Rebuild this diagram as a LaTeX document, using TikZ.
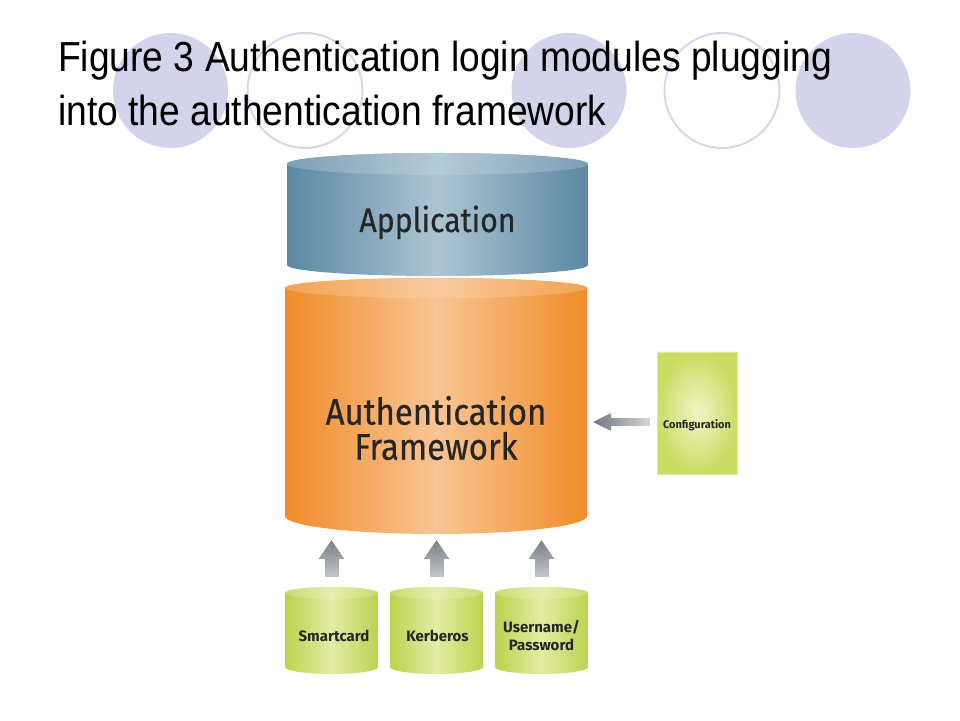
\documentclass[tikz,border=0pt]{standalone}
\usepackage{fontspec}
\setmainfont{Liberation Sans}
\newfontfamily\titlefont[FakeStretch=0.886]{Liberation Sans}
\newfontfamily\boxfont{Fira Sans}
\newfontfamily\bigfont[FakeStretch=0.89,FakeBold=0.5]{Fira Sans}
\usetikzlibrary{calc,arrows.meta,fadings,shapes.misc}

\definecolor{appedge}{HTML}{5B88A2}
\definecolor{appmid}{HTML}{ACC5D4}
\definecolor{authedge}{HTML}{F08C28}
\definecolor{authmid}{HTML}{F8C595}
\definecolor{modedge}{HTML}{BDD24E}
\definecolor{modmid}{HTML}{E3ECA6}
\definecolor{confin}{HTML}{F1F5C6}
\definecolor{confout}{HTML}{CADC62}
\definecolor{arrowgray}{HTML}{5F6670}
\definecolor{dotfill}{HTML}{D3D3EB}
\definecolor{dotline}{HTML}{D7D7EB}
\definecolor{labeltext}{HTML}{262626}

\tikzfading[name=upfade, top color=transparent!0, bottom color=transparent!85]
\tikzfading[name=leftfade, left color=transparent!0, right color=transparent!85]

\begin{document}
\begin{tikzpicture}
  [x=1pt,y=1pt,
   drum/.style n args={4}{inner sep=0pt,
     path picture={
       \shade[left color=#3, right color=#3, middle color=#4]
         let \p1=(path picture bounding box.south west),
             \p2=(path picture bounding box.north east),
             \n1={(\x2-\x1)/2}
         in (\x1,\y2-#1) -- (\x1,\y1+#2)
            arc[start angle=180, end angle=360, x radius=\n1, y radius=#2]
            -- (\x2,\y2-#1)
            arc[start angle=0, end angle=180, x radius=\n1, y radius=#1] -- cycle;
       \shade[left color=#3!80!white, right color=#3!80!white, middle color=#4!90!white]
         let \p1=(path picture bounding box.south west),
             \p2=(path picture bounding box.north east),
             \n1={(\x2-\x1)/2}
         in (\x1/2+\x2/2,\y2-#1) ellipse[x radius=\n1, y radius=#1];
     }},
   module/.style={drum={6pt}{7pt}{modedge}{modmid}, minimum width=93pt, minimum height=87pt},
   confbox/.style={chamfered rectangle, chamfered rectangle corners={north west,north east},
     chamfered rectangle xsep=5pt, chamfered rectangle ysep=5pt, inner sep=0pt,
     minimum width=80pt, minimum height=122pt, inner color=confin, outer color=confout,
     draw=confin!60!confout, line width=0.6pt},
   titletext/.style={anchor=base west, inner sep=0pt, font=\titlefont\fontsize{42}{50}\selectfont},
   boxlabel/.style={inner sep=0pt, text=labeltext, align=center, font=\bigfont\fontsize{37}{35}\selectfont},
   modlabel/.style={inner sep=0pt, text=labeltext, align=center, font=\boxfont\bfseries\fontsize{15}{18.5}\selectfont},
   uparrow/.style={draw=arrowgray, line width=14pt, -{Triangle[width=26pt,length=19pt,line width=0pt]}, path fading=upfade},
   leftarrow/.style={draw=arrowgray, line width=8pt, -{Triangle[width=18pt,length=18pt,line width=0pt]}, path fading=leftfade}]
  \useasboundingbox (0,0) rectangle (960,720);

  % circles behind the title
  \foreach \cx in {170.5,569,853}
    \fill[dotfill] (\cx,629.5) circle[radius=57.5];
  \foreach \cx in {305,722}
    \draw[dotline,line width=2pt] (\cx,629.5) circle[radius=57.5];

  \node[titletext] (t1) at (58,648) {Figure 3 Authentication login modules plugging};
  \node[titletext] (t2) at (58,594) {into the authentication framework};

  % stack
  \node[drum={11pt}{11pt}{appedge}{appmid}, minimum width=301pt, minimum height=123pt] (app) at (437.5,505.5) {};
  \node[boxlabel, anchor=base, font=\bigfont\fontsize{34}{35}\selectfont] at (437.5,488) {Application};
  \node[drum={10pt}{18pt}{authedge}{authmid}, minimum width=302pt, minimum height=256pt] (auth) at (436,314) {};
  \node[boxlabel] at (436,292) {Authentication\\Framework};

  % login modules
  \node[module] (smart) at (331.5,89.5) {};
  \node[module] (kerb) at (436.5,89.5) {};
  \node[module] (user) at (541.5,89.5) {};
  \node[modlabel, anchor=base] at (334,79) {Smartcard};
  \node[modlabel, anchor=base] at (437.5,79) {Kerberos};
  \node[modlabel] at (541.5,84.5) {Username/\\Password};

  \node[confbox] (conf) at (697,307) {};
  \node[modlabel, anchor=base, font=\boxfont\bfseries\fontsize{11}{13}\selectfont] at (697,291) {Configuration};

  \foreach \m in {smart,kerb,user}
    \draw[uparrow, shorten <=10pt, shorten >=6pt] (\m.north) -- (\m.north |- auth.south);
  \coordinate (cfgin) at ([yshift=-9pt]conf.west);
  \draw[leftarrow, shorten <=7pt, shorten >=6pt] (cfgin) -- (cfgin -| auth.east);
\end{tikzpicture}
\end{document}
